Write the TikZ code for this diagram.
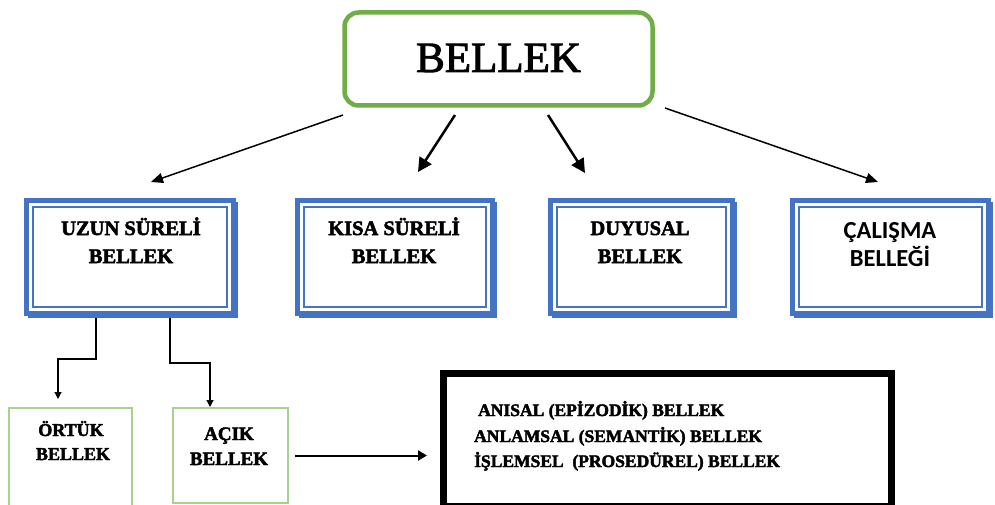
\documentclass[tikz,border=0pt]{standalone}
\usepackage{fontspec}
\newfontfamily\tnrf{Liberation Serif}[FakeBold=2.5]
\newfontfamily\titlef{Liberation Serif}[FakeBold=2.2]
\newfontfamily\carl{Carlito}
\usetikzlibrary{arrows.meta,calc}
\definecolor{boxblue}{HTML}{4472C4}
\definecolor{topgrn}{HTML}{70AD47}
\definecolor{lightgrn}{HTML}{A9D18E}
\begin{document}
\begin{tikzpicture}[x=1pt,y=-1pt,
  bluebox/.style={draw=boxblue, line width=5pt, fill=white, inner sep=0pt, outer sep=0pt, minimum height=113pt},
  grnbox/.style={draw=lightgrn, line width=1.3pt, inner sep=0pt, outer sep=0pt},
  lab/.style={anchor=base, inner sep=0pt, font=\tnrf\bfseries\fontsize{20.5}{24}\selectfont},
  calab/.style={anchor=base, inner sep=0pt, font=\carl\bfseries\fontsize{24.5}{28}\selectfont},
  smlab/.style={anchor=base, inner sep=0pt, font=\tnrf\bfseries\fontsize{#1}{22}\selectfont},
  blklab/.style={anchor=base west, inner sep=0pt, font=\tnrf\bfseries\fontsize{17.5}{22}\selectfont},
  arrS/.style={line width=1.5pt, -{Triangle[length=12pt,width=10pt]}},
  arrL/.style={line width=2.5pt, -{Triangle[length=14pt,width=14pt]}},
  elb/.style={line width=1.2pt, -{Triangle[length=7pt,width=7pt]}},
  arrH/.style={line width=2pt, -{Triangle[length=9pt,width=10pt]}}
]
\useasboundingbox (0,0) rectangle (995,505);
\clip (0,0) rectangle (995,505);

% top box
\node[draw=topgrn, line width=4.5pt, rounded corners=14pt, minimum width=308pt, minimum height=93pt, inner sep=0pt, outer sep=0pt] (bellek) at (498.5,59) {};
\node[anchor=base, inner sep=0pt, font=\titlef\fontsize{43}{43}\selectfont] (bellekT) at (498.5,72) {BELLEK};

% blue boxes
\node[bluebox, minimum width=207pt] (uzun) at (130,257) {};
\node[bluebox, minimum width=195pt] (kisa) at (395,257) {};
\node[bluebox, minimum width=182pt] (duy) at (641.5,257) {};
\node[bluebox, minimum width=196pt] (cal) at (890.5,257) {};
\foreach \n in {uzun,kisa,duy,cal}{
  \draw[boxblue, line width=1.3pt] ($(\n.north west)+(6.5,6.5)$) rectangle ($(\n.south east)+(-6.5,-6.5)$);
  \draw[boxblue, line width=4pt] ($(\n.north east)+(2,1)$) -- ($(\n.south east)+(2,2)$) -- ($(\n.south west)+(1,2)$);
}
\node[lab] (uzunA) at (131,235) {UZUN SÜRELİ};
\node[lab] (uzunB) at (131,263) {BELLEK};
\node[lab] (kisaA) at (394,235) {KISA SÜRELİ};
\node[lab] (kisaB) at (394,263) {BELLEK};
\node[lab] (duyA) at (640,235) {DUYUSAL};
\node[lab] (duyB) at (640,263) {BELLEK};
\node[calab] (calA) at (890,238) {ÇALIŞMA};
\node[calab] (calB) at (890,266) {BELLEĞİ};

% bottom boxes
\node[grnbox, minimum width=123pt, minimum height=120pt] (ortuk) at (70.5,468) {};
\node[grnbox, minimum width=115pt, minimum height=95pt] (acik) at (230.5,455.5) {};
\node[smlab=18] (ortukA) at (71,436) {ÖRTÜK};
\node[smlab=18] (ortukB) at (73,460) {BELLEK};
\node[smlab=19] (acikA) at (229,440) {AÇIK};
\node[smlab=19] (acikB) at (229,465) {BELLEK};

% black box
\node[draw=black, line width=7pt, minimum width=448pt, minimum height=132.5pt, inner sep=0pt, outer sep=0pt] (blk) at (667.5,439.75) {};
\node[blklab] (l1) at (478,416) {ANISAL (EPİZODİK) BELLEK};
\node[blklab] (l2) at (474,442) {ANLAMSAL (SEMANTİK) BELLEK};
\node[blklab] (l3) at (474,467) {İŞLEMSEL\ \ (PROSEDÜREL) BELLEK};

% top arrows
\coordinate (a1s) at ($(bellek.south west)+(-1.5,9.5)$);
\coordinate (a1e) at ($(uzun.north)+(21,-18.5)$);
\coordinate (a2s) at ($(bellek.south)+(-43.5,9.5)$);
\coordinate (a2e) at ($(kisa.north)+(23,-28.5)$);
\coordinate (a3s) at ($(bellek.south)+(49.5,9.5)$);
\coordinate (a3e) at ($(duy.north)+(-56.5,-27.5)$);
\coordinate (a4s) at ($(bellek.south east)+(12.5,2.5)$);
\coordinate (a4e) at ($(cal.north)+(-12.5,-18.5)$);
\draw[arrS] (a1s) -- (a1e);
\draw[arrL] (a2s) -- (a2e);
\draw[arrL] (a3s) -- (a3e);
\draw[arrS] (a4s) -- (a4e);

% elbow connectors
\draw[elb] ($(uzun.south west)+(69.5,4.5)$) -- ++(0,41) -| ($(ortuk.north west)+(49,-9)$);
\draw[elb] ($(uzun.south west)+(143.5,4.5)$) -- ++(0,45) -| ($(acik.north west)+(37,-1)$);

% acik to list
\draw[arrH] ([xshift=7pt]acik.east) -- ($(acik.east -| blk.west)+(-16.5,0)$);
\end{tikzpicture}
\end{document}
